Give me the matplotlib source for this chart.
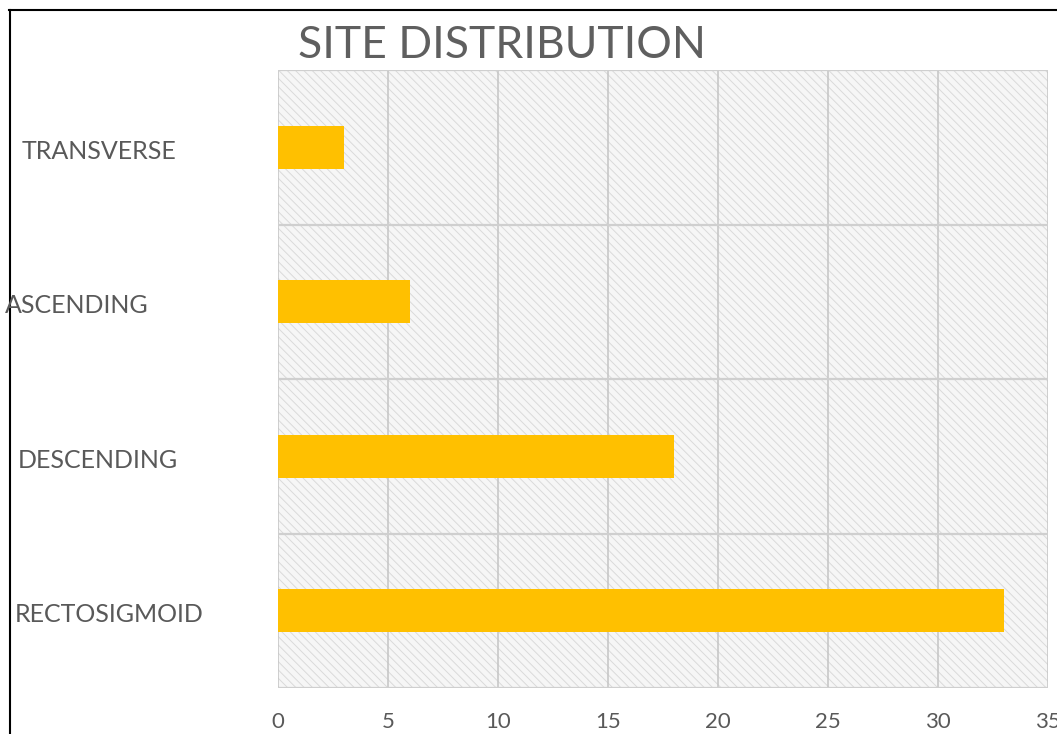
import matplotlib
matplotlib.use("Agg")
import matplotlib.pyplot as plt
from matplotlib.lines import Line2D

# Data
categories = ["RECTOSIGMOID", "DESCENDING", "ASCENDING", "TRANSVERSE"]
counts = [33, 18, 6, 3]
x_ticks = [0, 5, 10, 15, 20, 25, 30, 35]
title = "SITE DISTRIBUTION"

plt.rcParams["font.family"] = ["Lato", "DejaVu Sans"]
plt.rcParams["hatch.linewidth"] = 0.7
plt.rcParams["hatch.color"] = "#dadada"

W, H = 1057, 734
fig = plt.figure(figsize=(W / 100, H / 100), dpi=100)
ax = fig.add_axes([278 / W, 1 - 688 / H, (1048 - 278) / W, (688 - 70) / H])

# Textured plot-area background
ax.set_facecolor("#f6f6f6")
ax.patch.set_hatch("\\\\\\\\")
ax.patch.set_edgecolor("#dadada")

ypos = list(range(len(categories)))
ax.barh(ypos, counts, height=0.28, color="#FFC000", zorder=3)

ax.set_xlim(x_ticks[0], x_ticks[-1])
ax.set_ylim(-0.5, len(categories) - 0.5)
ax.set_xticks(x_ticks)
ax.set_xticklabels([str(t) for t in x_ticks], fontsize=16, color="#595959")
ax.tick_params(axis="x", length=0, pad=17)

# Gridlines: vertical at each major tick, horizontal between categories
for t in x_ticks:
    ax.axvline(t, color="#c4c4c4", lw=1.1, zorder=1)
for b in [i - 0.5 for i in range(len(categories) + 1)]:
    ax.axhline(b, color="#cfcfcf", lw=1.6, zorder=1)

for s in ax.spines.values():
    s.set_visible(False)

ax.set_yticks(ypos)
ax.set_yticklabels([])
ax.tick_params(axis="y", length=0)

# Category labels, left aligned in the margin
label_x = [15, 18, 5, 22]
for y, name, lx in zip(ypos, categories, label_x):
    yc = ax.transData.transform((0, y))[1] - 4
    fig.text(lx / W, yc / H, name, fontsize=18, color="#595959",
             ha="left", va="center")

fig.text(502 / W, 1 - 45 / H, title, fontsize=32,
         color="#5f5f5f", ha="center", va="center")

# Outer frame lines (top and left)
fig.add_artist(Line2D([9 / W, 1], [1 - 9.5 / H, 1 - 9.5 / H], color="black", lw=1.5))
fig.add_artist(Line2D([9.5 / W, 9.5 / W], [0, 1 - 9.5 / H], color="black", lw=1.5))

fig.savefig("out.png", dpi=100, facecolor="white")
